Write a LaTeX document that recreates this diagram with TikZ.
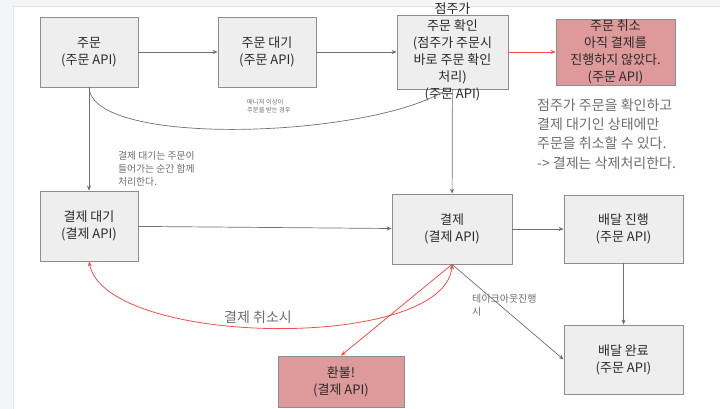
\documentclass[tikz,border=0pt]{standalone}
\usepackage{fontspec}
\setmainfont{Noto Sans CJK KR}
\usepackage{tikz}
\usetikzlibrary{arrows.meta,positioning}

\definecolor{pagegray}{HTML}{F4F5F7}
\definecolor{pageline}{HTML}{E2E3E6}
\definecolor{boxfill}{HTML}{EEEEEE}
\definecolor{boxline}{HTML}{8E8E8E}
\definecolor{redfill}{HTML}{DE9A9A}
\definecolor{redline}{HTML}{FF4A4A}
\definecolor{edgegray}{HTML}{707070}
\definecolor{textdark}{HTML}{2A2A2A}
\definecolor{labelgray}{HTML}{6E6E6E}

\tikzset{
  box/.style={draw=boxline, fill=boxfill, line width=0.8pt, minimum width=98,
    minimum height=70, inner sep=0pt, align=center, text=textdark,
    font=\fontsize{13}{17}\selectfont},
  redbox/.style={box, fill=redfill},
  boxtext/.style={inner sep=0pt, align=center, text=textdark,
    font=\fontsize{13}{17}\selectfont},
  grayedge/.style={draw=edgegray, line width=0.7pt, -{Stealth[length=5pt,width=4pt]}},
  rededge/.style={draw=redline, line width=0.8pt, -{Stealth[length=5pt,width=4pt]}},
  note/.style={inner sep=0pt, align=left, text=labelgray}
}

\begin{document}
\begin{tikzpicture}[x=1pt,y=-1pt,node distance=178pt,on grid,auto]
   \useasboundingbox (0,0) rectangle (720,409);
   \fill[pagegray] (0,0) rectangle (720,409);
   \fill[white] (13,6) rectangle (720,409);
   \draw[pageline] (13,409) |- (720,6);

   % top row
   \node[box] (ord) at (89,52) {주문\\(주문 API)};
   \node[box] (ordwait) [right=of ord] {주문 대기\\(주문 API)};
   \node[box,minimum width=111,minimum height=74] (conf) at (452.5,52) {};
   \node[boxtext] (conftext) at (conf) {점주가\\주문 확인\\(점주가 주문시\\바로 주문 확인\\처리)\\(주문 API)};
   \node[redbox,minimum width=119,minimum height=66] (cancel) at (615.5,52)
     {주문 취소\\아직 결제를\\진행하지 않았다.\\(주문 API)};

   % bottom row
   \node[box] (paywait) at (89,226) {결제 대기\\(결제 API)};
   \node[box,minimum width=120] (pay) at (452,229) {결제\\(결제 API)};
   \node[box,minimum width=119,minimum height=68] (deliv) at (623.5,229) {배달 진행\\(주문 API)};
   \node[box,minimum width=119,minimum height=69] (done) [below=130.5pt of deliv] {배달 완료\\(주문 API)};
   \node[redbox,minimum width=126,minimum height=51] (refund) at (341,381.5) {환불!\\(결제 API)};

    \path[grayedge]
    (ord) edge (ordwait)
    (ordwait) edge (conf)
    (ord) edge (paywait)
    (conf) edge (pay)
    (paywait) edge (pay)
    (pay) edge (deliv)
    (deliv) edge (done)
    (pay.south) edge (done.west);

    \path[rededge]
    (conf) edge (cancel)
    (pay.south) edge (refund.north);

    \draw[rededge] (pay.south) .. controls (452,352) and (106,348) .. (paywait.south);
    \draw[draw=edgegray,line width=0.7pt] (ord.south) .. controls (92,148) and (372,138) .. ([xshift=-5.5]conf.south);

   % labels
   \node[note,anchor=west,font=\fontsize{6.3}{8}\selectfont] (manager) at (247,106) {메니저 이상이\\주문을 받는 경우};
   \node[note,anchor=west,font=\fontsize{9.8}{13}\selectfont] (together) at (118,169) {결제 대기는 주문이\\들어가는 순간 함께\\처리한다.};
   \node[note,anchor=west,font=\fontsize{14}{19.3}\selectfont] (rule) at (537,134)
     {점주가 주문을 확인하고\\결제 대기인 상태에만\\주문을 취소할 수 있다.\\-> 결제는 삭제처리한다.};
   \node[note,font=\fontsize{14}{17}\selectfont] (paycancel) at (258,317) {결제 취소시};
   \node[note,anchor=west,font=\fontsize{10}{13}\selectfont] (takeout) at (472,305.5) {테이크아웃진행\\시};
\end{tikzpicture}
\end{document}
